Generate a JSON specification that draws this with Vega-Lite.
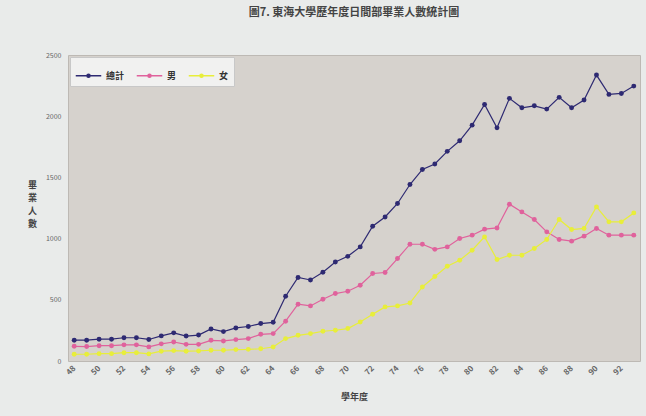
{
  "$schema": "https://vega.github.io/schema/vega-lite/v6.json",
  "width": 572,
  "height": 306,
  "autosize": {"type": "none"},
  "padding": {"left": 68, "top": 55, "right": 6, "bottom": 55},
  "background": "#e9ebea",
  "title": {
    "text": "圖7. 東海大學歷年度日間部畢業人數統計圖",
    "fontSize": 11,
    "font": "Noto Sans CJK TC",
    "fontWeight": "bold",
    "color": "#444444",
    "anchor": "middle",
    "offset": 33
  },
  "config": {
    "view": {"fill": "#d6d2cd", "stroke": "#bdb9b4", "strokeWidth": 1},
    "font": "Noto Sans CJK TC"
  },
  "data": {
    "values": [
      {"year": 48, "總計": 170, "男": 120, "女": 55},
      {"year": 49, "總計": 170, "男": 118, "女": 55},
      {"year": 50, "總計": 178, "男": 125, "女": 60},
      {"year": 51, "總計": 178, "男": 125, "女": 60},
      {"year": 52, "總計": 190, "男": 132, "女": 68},
      {"year": 53, "總計": 190, "男": 132, "女": 68},
      {"year": 54, "總計": 176, "男": 115, "女": 58},
      {"year": 55, "總計": 205, "男": 140, "女": 80},
      {"year": 56, "總計": 230, "男": 155, "女": 85},
      {"year": 57, "總計": 204, "男": 136, "女": 80},
      {"year": 58, "總計": 212, "男": 136, "女": 82},
      {"year": 59, "總計": 262, "男": 169, "女": 88},
      {"year": 60, "總計": 240, "男": 164, "女": 88},
      {"year": 61, "總計": 270, "男": 175, "女": 93},
      {"year": 62, "總計": 282, "男": 183, "女": 95},
      {"year": 63, "總計": 306, "男": 218, "女": 100},
      {"year": 64, "總計": 316, "男": 224, "女": 114},
      {"year": 65, "總計": 529, "男": 325, "女": 183},
      {"year": 66, "總計": 682, "男": 464, "女": 210},
      {"year": 67, "總計": 662, "男": 450, "女": 224},
      {"year": 68, "總計": 725, "男": 504, "女": 243},
      {"year": 69, "總計": 809, "男": 551, "女": 251},
      {"year": 70, "總計": 855, "男": 570, "女": 265},
      {"year": 71, "總計": 932, "男": 619, "女": 319},
      {"year": 72, "總計": 1101, "男": 715, "女": 382},
      {"year": 73, "總計": 1177, "男": 723, "女": 442},
      {"year": 74, "總計": 1287, "男": 837, "女": 450},
      {"year": 75, "總計": 1442, "男": 954, "女": 474},
      {"year": 76, "總計": 1565, "男": 954, "女": 605},
      {"year": 77, "總計": 1610, "男": 912, "女": 690},
      {"year": 78, "總計": 1713, "男": 932, "女": 774},
      {"year": 79, "總計": 1799, "男": 1001, "女": 823},
      {"year": 80, "總計": 1927, "男": 1028, "女": 905},
      {"year": 81, "總計": 2096, "男": 1077, "女": 1014},
      {"year": 82, "總計": 1905, "男": 1087, "女": 829},
      {"year": 83, "總計": 2146, "男": 1281, "女": 864},
      {"year": 84, "總計": 2069, "男": 1218, "女": 864},
      {"year": 85, "總計": 2085, "男": 1156, "女": 919},
      {"year": 86, "總計": 2058, "男": 1055, "女": 993},
      {"year": 87, "總計": 2154, "男": 993, "女": 1156},
      {"year": 88, "總計": 2069, "男": 979, "女": 1074},
      {"year": 89, "總計": 2132, "男": 1020, "女": 1083},
      {"year": 90, "總計": 2336, "男": 1083, "女": 1259},
      {"year": 91, "總計": 2178, "男": 1028, "女": 1137},
      {"year": 92, "總計": 2186, "男": 1028, "女": 1137},
      {"year": 93, "總計": 2246, "男": 1028, "女": 1210}
    ]
  },
  "transform": [
    {"fold": ["總計", "男", "女"], "as": ["series", "value"]}
  ],
  "encoding": {
    "x": {
      "field": "year",
      "type": "ordinal",
      "scale": {"type": "point", "padding": 0.5},
      "axis": {
        "title": "學年度",
        "titleFontSize": 9,
        "titleFontWeight": "bold",
        "titleColor": "#444444",
        "titlePadding": 16,
        "values": [48, 50, 52, 54, 56, 58, 60, 62, 64, 66, 68, 70, 72, 74, 76, 78, 80, 82, 84, 86, 88, 90, 92],
        "labelAngle": -45,
        "labelAlign": "right",
        "labelBaseline": "middle",
        "labelFontSize": 8,
        "labelFontWeight": "bold",
        "labelColor": "#666666",
        "labelPadding": 6,
        "domain": false,
        "ticks": false,
        "grid": false
      }
    },
    "y": {
      "field": "value",
      "type": "quantitative",
      "scale": {"domain": [0, 2500], "nice": false},
      "axis": {
        "values": [0, 500, 1000, 1500, 2000, 2500],
        "format": "d",
        "labelFontSize": 7,
        "labelColor": "#666666",
        "labelPadding": 7,
        "domain": false,
        "ticks": false,
        "grid": false,
        "title": ["畢", "業", "人", "數"],
        "titleAngle": 0,
        "titleFontSize": 9,
        "titleFontWeight": "bold",
        "titleColor": "#444444",
        "titleLineHeight": 13,
        "titleX": -36,
        "titleY": 125,
        "titleAlign": "center",
        "titleBaseline": "top"
      }
    },
    "color": {
      "field": "series",
      "type": "nominal",
      "scale": {"domain": ["總計", "男", "女"], "range": ["#2e2a72", "#e0629c", "#e8ee3a"]},
      "legend": {
        "title": null,
        "orient": "top-left",
        "direction": "horizontal",
        "offset": 2,
        "padding": 5,
        "fillColor": "#f1f1f0",
        "strokeColor": "#c8c8c8",
        "labelFontSize": 9,
        "labelFontWeight": "bold",
        "labelColor": "#333333",
        "symbolType": "M-1,0H1M-0.12,0a0.12,0.12 0 1,0 0.24,0a0.12,0.12 0 1,0 -0.24,0",
        "symbolSize": 650,
        "symbolStrokeWidth": 1.5,
        "columnPadding": 8,
        "labelOffset": 4,
        "encode": {"symbols": {"update": {"fill": {"scale": "color", "field": "value"}}}}
      }
    }
  },
  "layer": [
    {"mark": {"type": "line", "strokeWidth": 1.2}},
    {"mark": {"type": "circle", "size": 24, "opacity": 1}}
  ]
}
